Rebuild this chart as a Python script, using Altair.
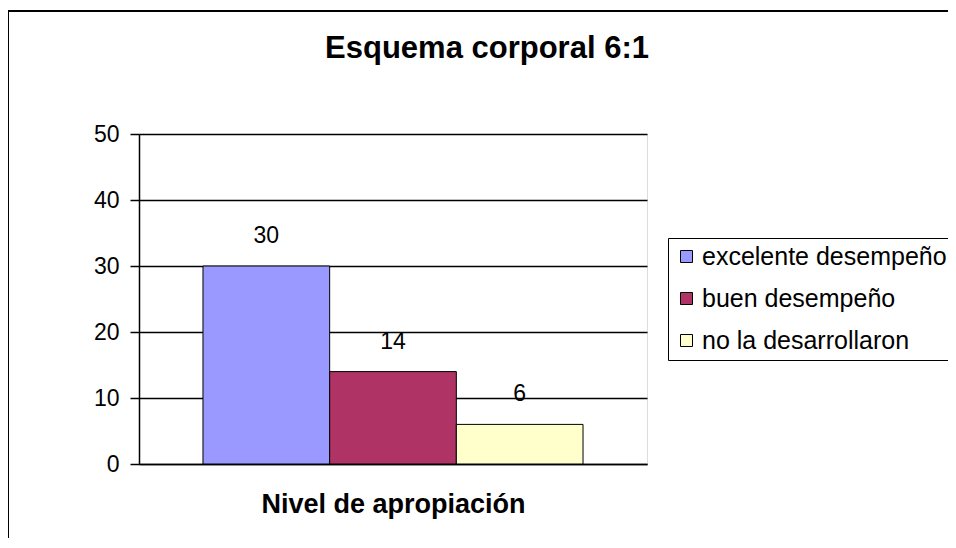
import altair as alt
import pandas as pd

categories = ["excelente desempeño", "buen desempeño", "no la desarrollaron"]
values = [30, 14, 6]
colors = ["#9999FF", "#B03366", "#FFFFCC"]
y_ticks = [0, 10, 20, 30, 40, 50]

df = pd.DataFrame({"cat": categories, "val": values})
FONT = "Liberation Sans"

x_enc = alt.X(
    "cat:N",
    sort=categories,
    scale=alt.Scale(paddingInner=0, paddingOuter=0.505),
    axis=alt.Axis(
        title="Nivel de apropiación",
        labels=False,
        ticks=False,
        domainColor="black",
        domainWidth=1.5,
        titleFont=FONT,
        titleFontSize=27,
        titleFontWeight="bold",
        titleColor="black",
        titlePadding=27,
    ),
)

bars = alt.Chart(df).mark_bar(stroke="black", strokeWidth=1).encode(
    x=x_enc,
    y=alt.Y(
        "val:Q",
        scale=alt.Scale(domain=[0, 50]),
        axis=alt.Axis(
            values=y_ticks,
            title=None,
            grid=True,
            gridColor="black",
            gridWidth=1.5,
            gridOpacity=1,
            domainColor="black",
            domainWidth=1.5,
            tickColor="black",
            tickWidth=1.5,
            tickSize=9,
            labelFont=FONT,
            labelFontSize=23,
            labelColor="black",
            labelPadding=11,
        ),
    ),
    color=alt.Color(
        "cat:N",
        sort=categories,
        scale=alt.Scale(domain=categories, range=colors),
        legend=alt.Legend(
            title=None,
            orient="none",
            legendX=529,
            legendY=104,
            symbolType="square",
            symbolSize=144,
            symbolStrokeColor="black",
            symbolStrokeWidth=1,
            symbolOpacity=1,
            labelFont=FONT,
            labelFontSize=25,
            labelColor="black",
            labelOffset=3,
            rowPadding=16,
            padding=6,
            strokeColor="black",
            fillColor="white",
            labelLimit=400,
        ),
    ),
)

labels = alt.Chart(df).mark_text(
    font=FONT, fontSize=23, color="black", baseline="alphabetic", dy=-23
).encode(
    x=alt.X("cat:N", sort=categories),
    y="val:Q",
    text="val:Q",
)

border = alt.Chart(pd.DataFrame({"a": [0]})).mark_rect(
    fill=None, stroke="black", strokeWidth=2
).encode(
    x=alt.value(-131),
    x2=alt.value(900),
    y=alt.value(-123),
    y2=alt.value(700),
)

chart = (
    alt.layer(bars, labels, border)
    .properties(
        width=508,
        height=330,
        title=alt.TitleParams(
            "Esquema corporal 6:1",
            font=FONT,
            fontSize=31,
            fontWeight="bold",
            color="black",
            anchor="middle",
            dx=94,
            baseline="bottom",
            offset=-86,
        ),
        autosize=alt.AutoSizeParams(type="none"),
        padding={"left": 131, "top": 126, "right": 301, "bottom": 74},
    )
    .configure_view(stroke=None)
    .configure(background="white")
)

chart.save("out.html", embed_options={"renderer": "svg", "actions": False})
